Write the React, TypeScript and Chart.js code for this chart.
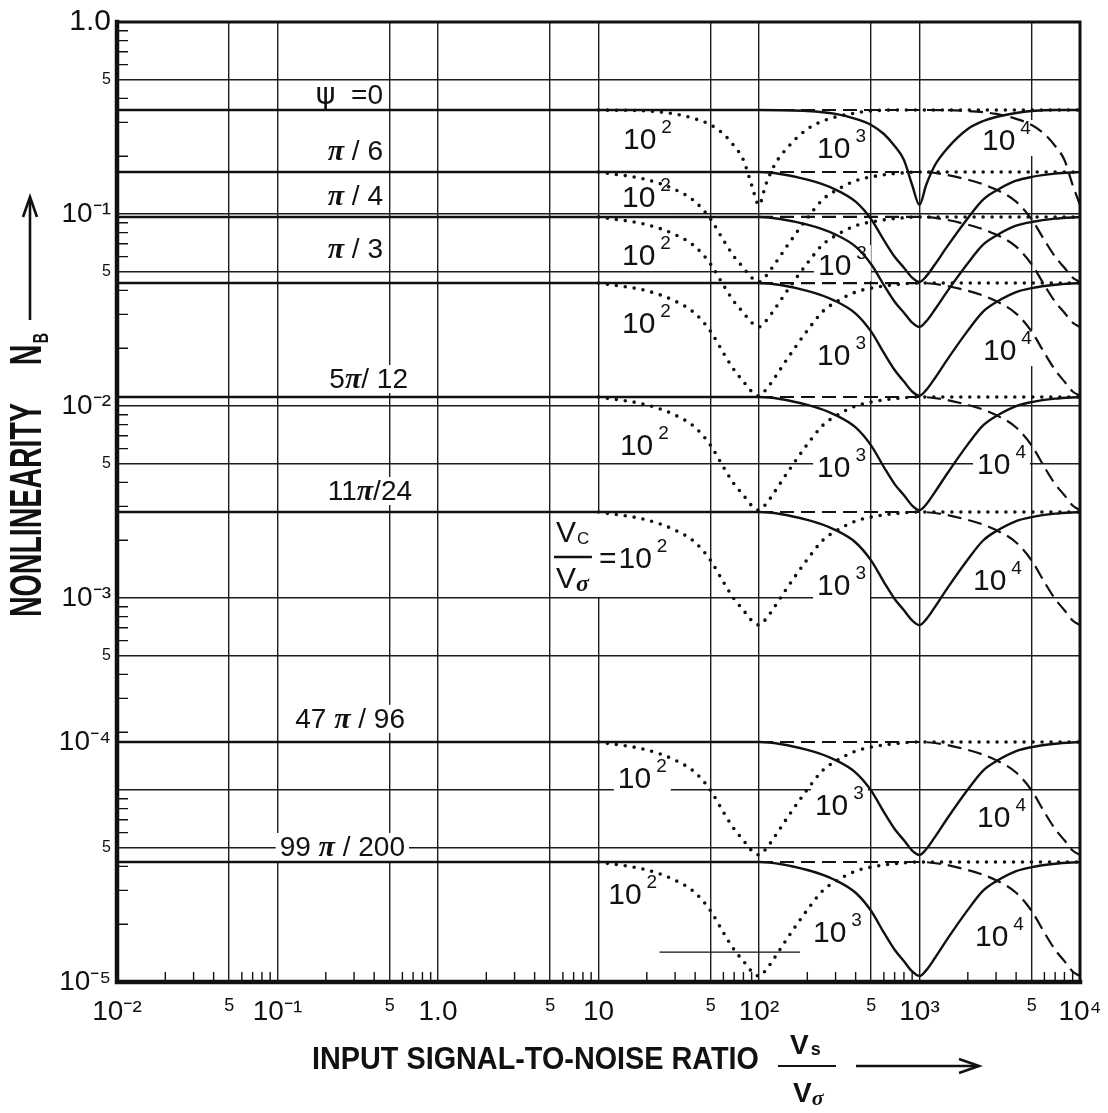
import React, { useEffect, useRef } from 'react';
import { Chart, registerables } from 'chart.js';

Chart.register(...registerables);

// ---------------- axes ----------------
const X_MIN = 1e-2;
const X_MAX = 1e4;
const Y_MIN = 1e-5;
const Y_MAX = 1;
const X_TICKS = [0.01, 0.05, 0.1, 0.5, 1, 5, 10, 50, 100, 500, 1000, 5000, 10000];
const X_TICK_LABELS = ['10⁻²', '5', '10⁻¹', '5', '1.0', '5', '10', '5', '10²', '5', '10³', '5', '10⁴'];
// in the original sheet the "10^-4" caption sits beside the 47π/96 rule, not at its gridline
const Y_TICKS = [1e-5, 5e-5, 1e-4, 1.78e-4, 5e-4, 1e-3, 5e-3, 1e-2, 5e-2, 0.1, 0.5, 1];
const Y_TICK_LABELS = ['10⁻⁵', '5', '', '10⁻⁴', '5', '10⁻³', '5', '10⁻²', '5', '10⁻¹', '5', '1.0'];
const Y_LABEL_ONLY_TICK = 3;
const MINOR_STEPS = [2, 3, 4, 6, 7, 8, 9];

// ---------------- curves ----------------
// Vs/Vc ratios at which every notch was read off the figure
const RATIOS = [0.1, 0.2, 0.3, 0.4, 0.5, 0.6, 0.7, 0.8, 0.9, 1, 1.1, 1.25, 1.5, 2, 2.5, 3, 4, 5, 7, 10];
const VC_DOTTED = 1e2; // Vc/Vσ = 10^2
const VC_SOLID = 1e3; // Vc/Vσ = 10^3
const VC_DASHED = 1e4; // Vc/Vσ = 10^4
const DASHED_START = 1e2;

const PSI_NAMES = ['0', 'π/6', 'π/4', 'π/3', '5π/12', '11π/24', '47π/96', '99π/200'];
const NB_PSI_0 = [0.348, 0.344, 0.332, 0.313, 0.291, 0.261, 0.226, 0.191, 0.1416, 0.1114, 0.1416, 0.18, 0.221, 0.277, 0.305, 0.32, 0.336, 0.344, 0.348, 0.348];
const NB_PSI_PI6 = [0.1655, 0.1509, 0.134, 0.1159, 0.0939, 0.0731, 0.0599, 0.0525, 0.0466, 0.0443, 0.0473, 0.0547, 0.0684, 0.0951, 0.1191, 0.1322, 0.149, 0.156, 0.1623, 0.1655];
const NB_PSI_PI4 = [0.0965, 0.088, 0.0781, 0.0676, 0.0547, 0.0426, 0.0349, 0.0306, 0.0272, 0.0258, 0.0276, 0.0319, 0.0399, 0.0554, 0.0694, 0.0771, 0.0869, 0.0909, 0.0946, 0.0965];
const NB_PSI_PI3 = [0.0437, 0.0398, 0.0352, 0.0303, 0.0244, 0.0189, 0.0154, 0.0134, 0.0119, 0.0113, 0.0121, 0.014, 0.0176, 0.0247, 0.0311, 0.0347, 0.0392, 0.0411, 0.0428, 0.0437];
const NB_PSI_5PI12 = [0.01114, 0.01013, 0.00897, 0.00773, 0.00622, 0.00481, 0.00392, 0.00343, 0.00303, 0.00287, 0.00307, 0.00357, 0.00449, 0.00631, 0.00794, 0.00885, 0.00999, 0.01048, 0.01092, 0.01114];
const NB_PSI_11PI24 = [0.002805, 0.002551, 0.002258, 0.001946, 0.001566, 0.001211, 0.000988, 0.000863, 0.000764, 0.000723, 0.000774, 0.000899, 0.001132, 0.001588, 0.001999, 0.002228, 0.002517, 0.002639, 0.002749, 0.002805];
const NB_PSI_47PI96 = [1.778e-4, 1.617e-4, 1.431e-4, 1.233e-4, 9.93e-5, 7.67e-5, 6.26e-5, 5.47e-5, 4.84e-5, 4.59e-5, 4.91e-5, 5.7e-5, 7.17e-5, 1.006e-4, 1.267e-4, 1.412e-4, 1.595e-4, 1.673e-4, 1.742e-4, 1.778e-4];
const NB_PSI_99PI200 = [4.217e-5, 3.832e-5, 3.388e-5, 2.916e-5, 2.343e-5, 1.807e-5, 1.472e-5, 1.284e-5, 1.135e-5, 1.074e-5, 1.15e-5, 1.337e-5, 1.687e-5, 2.375e-5, 2.997e-5, 3.343e-5, 3.78e-5, 3.966e-5, 4.131e-5, 4.217e-5];
const PSI_SERIES = [NB_PSI_0, NB_PSI_PI6, NB_PSI_PI4, NB_PSI_PI3, NB_PSI_5PI12, NB_PSI_11PI24, NB_PSI_47PI96, NB_PSI_99PI200];

// short partial rule drawn near the bottom of the original sheet
const STRAY_RULE_X = [24, 180];
const STRAY_RULE_Y = [1.43e-5, 1.43e-5];

// ---------------- annotations (data coordinates) ----------------
const PSI_LABEL_X = [0.454, 0.454, 0.454, 0.454, 0.65, 0.689, 0.623, 0.623]; // right edge
const PSI_LABEL_Y = [0.4117, 0.2104, 0.1226, 0.0649, 0.01366, 0.003565, 2.32e-4, 4.99e-5];
const PSI_LABEL_PARTS = [
  [['ψ', 'psi'], ['  =0', 'txt']],
  [['π', 'pi'], [' / 6', 'txt']],
  [['π', 'pi'], [' / 4', 'txt']],
  [['π', 'pi'], [' / 3', 'txt']],
  [['5', 'txt'], ['π', 'pi'], ['/ 12', 'txt']],
  [['11', 'txt'], ['π', 'pi'], ['/24', 'txt']],
  [['47 ', 'txt'], ['π', 'pi'], [' / 96', 'txt']],
  [['99 ', 'txt'], ['π', 'pi'], [' / 200', 'txt']],
];
const NOTCH_LABEL_X = [14.2, 230, 2451, 14.0, 14.0, 233, 14.0, 230, 2486, 13.6, 230, 2282, 230, 2154, 13.2, 223, 2282, 11.5, 217, 2217];
const NOTCH_LABEL_Y = [0.24, 0.2154, 0.2371, 0.1197, 0.0597, 0.053, 0.0264, 0.018, 0.0191, 0.00612, 0.0047, 0.00487, 0.00114, 0.00121, 1.127e-4, 8.15e-5, 7.06e-5, 2.8e-5, 1.78e-5, 1.695e-5];
const NOTCH_LABEL_EXP = ['2', '3', '4', '2', '2', '3', '2', '3', '4', '2', '3', '4', '3', '4', '2', '3', '4', '2', '3', '4'];
const KEY_LABEL_X = 13.6;
const KEY_LABEL_Y = 0.001578;

// ---------------- styling ----------------
const CANVAS_W = 1108;
const CANVAS_H = 1113;
const INK = '#111111';
const GRID = '#1c1c1c';
const SANS = '"Liberation Sans", Arial, Helvetica, sans-serif';
const SANS_FAMILY = '"Liberation Sans", Arial, Helvetica, sans-serif';
const SERIF = '"Liberation Serif", "DejaVu Serif", "Times New Roman", serif';
const GREEK = '"DejaVu Sans", "Liberation Sans", sans-serif';
const PART_FONTS: Record<string, string> = {
  txt: `28px ${SANS}`,
  pi: `italic bold 30px ${SERIF}`,
  psi: `30px ${GREEK}`,
};

const SOLID_STYLE = { borderColor: INK, borderWidth: 2.4, borderDash: [], borderCapStyle: 'butt' };
const DASHED_STYLE = { borderColor: INK, borderWidth: 2.2, borderDash: [14, 7], borderCapStyle: 'butt' };
const DOTTED_STYLE = { borderColor: INK, borderWidth: 3.6, borderDash: [0, 9], borderCapStyle: 'round' };

type Pt = { x: number; y: number };

function notchPoints(nb: number[], vc: number, maxRatio = Infinity): Pt[] {
  const pts: Pt[] = [];
  RATIOS.forEach((r, i) => {
    if (r <= maxRatio) pts.push({ x: vc * r, y: nb[i] });
  });
  return pts;
}

function buildDatasets() {
  const common = { pointRadius: 0, fill: false, cubicInterpolationMode: 'monotone' };
  const solid: any[] = [];
  const dashed: any[] = [];
  const dotted: any[] = [];
  PSI_SERIES.forEach((nb, k) => {
    const level = nb[0];
    solid.push({
      label: `ψ=${PSI_NAMES[k]}, Vc/Vσ=10³`,
      data: [{ x: X_MIN, y: level }, ...notchPoints(nb, VC_SOLID)],
      ...common,
      ...SOLID_STYLE,
    });
    dashed.push({
      label: `ψ=${PSI_NAMES[k]}, Vc/Vσ=10⁴`,
      data: [{ x: DASHED_START, y: level }, ...notchPoints(nb, VC_DASHED, 1)],
      ...common,
      ...DASHED_STYLE,
    });
    dotted.push({
      label: `ψ=${PSI_NAMES[k]}, Vc/Vσ=10²`,
      data: [...notchPoints(nb, VC_DOTTED), { x: X_MAX, y: nb[nb.length - 1] }],
      ...common,
      ...DOTTED_STYLE,
    });
  });
  const stray = {
    label: 'rule',
    data: STRAY_RULE_X.map((x, i) => ({ x, y: STRAY_RULE_Y[i] })),
    pointRadius: 0,
    borderColor: INK,
    borderWidth: 1.3,
    fill: false,
  };
  return [...solid, ...dashed, stray, ...dotted];
}

type Run = { t: string; font: string; dx?: number; dy?: number };

function drawRuns(
  ctx: CanvasRenderingContext2D,
  runs: Run[],
  x: number,
  y: number,
  align: 'left' | 'right',
  bg?: [number, number, number],
) {
  const widths = runs.map((r) => {
    ctx.font = r.font;
    return ctx.measureText(r.t).width + (r.dx || 0);
  });
  const total = widths.reduce((a, b) => a + b, 0);
  let cx = align === 'right' ? x - total : x;
  if (bg) {
    ctx.fillStyle = '#ffffff';
    ctx.fillRect(cx - bg[0], y - bg[1], total + 2 * bg[0], bg[1] + bg[2]);
  }
  ctx.fillStyle = INK;
  ctx.textAlign = 'left';
  ctx.textBaseline = 'middle';
  runs.forEach((r, i) => {
    ctx.font = r.font;
    ctx.fillText(r.t, cx + (r.dx || 0), y + (r.dy || 0));
    cx += widths[i];
  });
}

function arrowHead(ctx: CanvasRenderingContext2D, tx: number, ty: number, dir: 'up' | 'right') {
  ctx.beginPath();
  if (dir === 'up') {
    ctx.moveTo(tx - 7, ty + 20);
    ctx.lineTo(tx, ty);
    ctx.lineTo(tx + 7, ty + 20);
  } else {
    ctx.moveTo(tx - 20, ty - 7);
    ctx.lineTo(tx, ty);
    ctx.lineTo(tx - 20, ty + 7);
  }
  ctx.stroke();
}

const decorPlugin = {
  id: 'decor',
  beforeDatasetsDraw(chart: any) {
    const { ctx, chartArea } = chart;
    const xs = chart.scales.x;
    const ys = chart.scales.y;
    ctx.save();
    // minor ticks inside the frame
    ctx.strokeStyle = INK;
    ctx.lineWidth = 1.4;
    ctx.beginPath();
    for (let e = -2; e < 4; e++) {
      for (const m of MINOR_STEPS) {
        const px = xs.getPixelForValue(m * Math.pow(10, e));
        ctx.moveTo(px, chartArea.bottom);
        ctx.lineTo(px, chartArea.bottom - 10);
      }
    }
    for (let e = -5; e < 0; e++) {
      for (const m of MINOR_STEPS) {
        const py = ys.getPixelForValue(m * Math.pow(10, e));
        ctx.moveTo(chartArea.left, py);
        ctx.lineTo(chartArea.left + 11, py);
      }
    }
    ctx.stroke();

    // psi labels
    PSI_LABEL_PARTS.forEach((parts, i) => {
      const runs = parts.map(([t, k]) => ({ t, font: PART_FONTS[k] }));
      drawRuns(ctx, runs, xs.getPixelForValue(PSI_LABEL_X[i]), ys.getPixelForValue(PSI_LABEL_Y[i]), 'right', [4, 15, 13]);
    });

    // notch labels 10^n
    NOTCH_LABEL_EXP.forEach((ex, i) => {
      const runs = [
        { t: '10', font: `30px ${SANS}` },
        { t: ex, font: `19px ${SANS}`, dx: 5, dy: -13 },
      ];
      drawRuns(ctx, runs, xs.getPixelForValue(NOTCH_LABEL_X[i]), ys.getPixelForValue(NOTCH_LABEL_Y[i]), 'left', [4, 22, 14]);
    });

    // key label  Vc/Vσ = 10^2
    const kx = xs.getPixelForValue(KEY_LABEL_X);
    const ky = ys.getPixelForValue(KEY_LABEL_Y);
    ctx.fillStyle = '#ffffff';
    ctx.fillRect(kx - 68, ky - 47, 120, 84);
    drawRuns(ctx, [{ t: 'V', font: `30px ${SANS}` }, { t: 'C', font: `17px ${SANS}`, dx: 1, dy: 5 }], kx - 64, ky - 26, 'left');
    drawRuns(ctx, [{ t: 'V', font: `30px ${SANS}` }, { t: 'σ', font: `italic bold 24px ${SERIF}`, dx: 0, dy: 5 }], kx - 64, ky + 20, 'left');
    ctx.strokeStyle = INK;
    ctx.lineWidth = 2.4;
    ctx.beginPath();
    ctx.moveTo(kx - 66, ky - 3);
    ctx.lineTo(kx - 28, ky - 3);
    ctx.stroke();
    drawRuns(
      ctx,
      [
        { t: '=', font: `30px ${SANS}` },
        { t: '10', font: `30px ${SANS}`, dx: 2 },
        { t: '2', font: `19px ${SANS}`, dx: 5, dy: -13 },
      ],
      kx - 21,
      ky,
      'left',
    );
    ctx.restore();
  },
  afterDatasetsDraw(chart: any) {
    const { ctx, chartArea } = chart;
    const { left, right, top, bottom } = chartArea;
    ctx.save();
    ctx.strokeStyle = INK;
    ctx.lineCap = 'square';
    ctx.lineWidth = 3;
    ctx.beginPath();
    ctx.moveTo(left, top);
    ctx.lineTo(right, top);
    ctx.lineTo(right, bottom);
    ctx.stroke();
    ctx.lineWidth = 4.5;
    ctx.beginPath();
    ctx.moveTo(left, top);
    ctx.lineTo(left, bottom);
    ctx.lineTo(right, bottom);
    ctx.stroke();
    ctx.restore();
  },
  afterDraw(chart: any) {
    const { ctx } = chart;
    ctx.save();
    ctx.fillStyle = INK;
    ctx.strokeStyle = INK;

    // ---- y title (rotated) ----
    const yFont = `bold 44px ${SANS}`;
    ctx.font = yFont;
    const yText = 'NONLINEARITY';
    const ysc = 214 / ctx.measureText(yText).width;
    ctx.save();
    ctx.translate(29, 510);
    ctx.rotate(-Math.PI / 2);
    ctx.scale(ysc, 1);
    ctx.textAlign = 'center';
    ctx.textBaseline = 'middle';
    ctx.fillText(yText, 0, 0);
    ctx.restore();
    ctx.save();
    ctx.translate(29, 355);
    ctx.rotate(-Math.PI / 2);
    ctx.scale(ysc, 1);
    ctx.textAlign = 'center';
    ctx.textBaseline = 'middle';
    ctx.font = yFont;
    ctx.fillText('N', 0, 0);
    ctx.font = `bold 22px ${SANS}`;
    ctx.fillText('B', 26, 13);
    ctx.restore();
    ctx.lineWidth = 2.6;
    ctx.beginPath();
    ctx.moveTo(30, 320);
    ctx.lineTo(30, 199);
    ctx.stroke();
    arrowHead(ctx, 30, 197, 'up');

    // ---- x title ----
    const xText = 'INPUT SIGNAL-TO-NOISE RATIO';
    ctx.font = `bold 32px ${SANS}`;
    const xsc = 447 / ctx.measureText(xText).width;
    ctx.save();
    ctx.translate(312, 1060);
    ctx.scale(xsc, 1);
    ctx.textAlign = 'left';
    ctx.textBaseline = 'middle';
    ctx.fillText(xText, 0, 0);
    ctx.restore();
    // fraction Vs / Vσ
    drawRuns(ctx, [{ t: 'V', font: `bold 28px ${SANS}` }, { t: 's', font: `bold 18px ${SANS}`, dx: 2, dy: 4 }], 790, 1046, 'left');
    ctx.lineWidth = 2.2;
    ctx.beginPath();
    ctx.moveTo(778, 1066);
    ctx.lineTo(836, 1066);
    ctx.stroke();
    drawRuns(ctx, [{ t: 'V', font: `bold 28px ${SANS}` }, { t: 'σ', font: `italic bold 22px ${SERIF}`, dy: 5 }], 793, 1094, 'left');
    // arrow
    ctx.lineWidth = 2.6;
    ctx.beginPath();
    ctx.moveTo(856, 1066);
    ctx.lineTo(977, 1066);
    ctx.stroke();
    arrowHead(ctx, 979, 1066, 'right');
    ctx.restore();
  },
};

export default function App() {
  const ref = useRef<HTMLCanvasElement>(null);

  useEffect(() => {
    const canvas = ref.current;
    if (!canvas) return;
    const chart = new Chart(canvas, {
      type: 'line',
      data: { datasets: buildDatasets() as any },
      options: {
        animation: false,
        responsive: false,
        devicePixelRatio: 1,
        events: [],
        layout: { padding: { left: 0, top: 22, right: 28, bottom: 0 } },
        plugins: { legend: { display: false }, tooltip: { enabled: false }, title: { display: false } },
        elements: { point: { radius: 0 } },
        scales: {
          x: {
            type: 'logarithmic',
            min: X_MIN,
            max: X_MAX,
            afterBuildTicks: (s: any) => {
              s.ticks = X_TICKS.map((v) => ({ value: v }));
            },
            afterFit: (s: any) => {
              s.height = CANVAS_H - 982;
              s.paddingLeft = 0;
              s.paddingRight = 0;
            },
            grid: { color: GRID, lineWidth: 1.4, drawTicks: false },
            border: { display: false },
            ticks: {
              autoSkip: false,
              maxRotation: 0,
              minRotation: 0,
              padding: 13,
              color: INK,
              callback: (_v: any, i: number) => X_TICK_LABELS[i],
              font: (c: any) => (X_TICK_LABELS[c.index] === '5' ? { family: SANS_FAMILY, size: 18 } : { family: SANS_FAMILY, size: 28 }),
            },
          },
          y: {
            type: 'logarithmic',
            min: Y_MIN,
            max: Y_MAX,
            afterBuildTicks: (s: any) => {
              s.ticks = Y_TICKS.map((v) => ({ value: v }));
            },
            afterFit: (s: any) => {
              s.width = 117;
              s.paddingTop = 0;
              s.paddingBottom = 0;
            },
            grid: {
              color: (c: any) => (c.index === Y_LABEL_ONLY_TICK ? 'rgba(0,0,0,0)' : GRID),
              lineWidth: 1.4,
              drawTicks: false,
            },
            border: { display: false },
            ticks: {
              autoSkip: false,
              padding: 6,
              color: INK,
              callback: (_v: any, i: number) => Y_TICK_LABELS[i],
              font: (c: any) => {
                const l = Y_TICK_LABELS[c.index];
                if (l === '5') return { family: SANS_FAMILY, size: 16 };
                if (l === '1.0') return { family: SANS_FAMILY, size: 30 };
                return { family: SANS_FAMILY, size: 28 };
              },
            },
          },
        },
      } as any,
      plugins: [decorPlugin as any],
    });
    return () => chart.destroy();
  }, []);

  return (
    <div style={{ position: 'fixed', left: 0, top: 0, width: CANVAS_W, height: CANVAS_H, background: '#ffffff' }}>
      <canvas ref={ref} width={CANVAS_W} height={CANVAS_H} style={{ width: CANVAS_W, height: CANVAS_H, display: 'block' }} />
    </div>
  );
}
